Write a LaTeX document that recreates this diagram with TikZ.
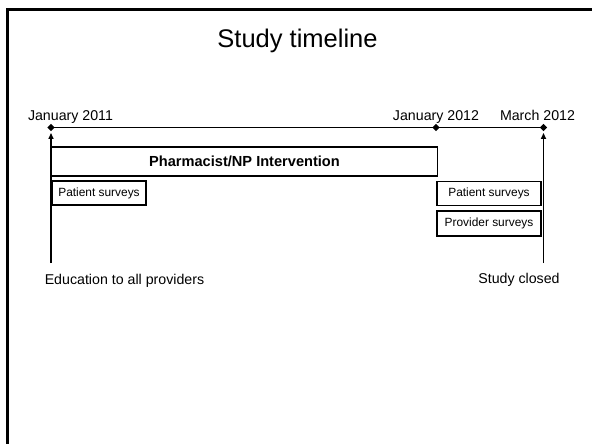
\documentclass[tikz,border=0pt]{standalone}
\usepackage{fontspec}
\setmainfont{Liberation Sans}
\usetikzlibrary{shapes.geometric,arrows.meta}
\tikzset{
  mark diamond/.style={diamond, fill=black, inner sep=0pt, minimum width=7.5pt, minimum height=7.5pt},
  bar/.style={draw=black, line width=1.8pt, inner sep=0pt, font=\fontsize{14.6}{16}\selectfont\bfseries},
  sbox/.style={draw=black, line width=1.6pt, inner sep=0pt, font=\fontsize{11.9}{13}\selectfont},
  datelbl/.style={anchor=base, inner sep=0pt, font=\fontsize{14.2}{16}\selectfont},
  tl/.style={line width=1.6pt},
  up/.style={line width=1.8pt, -{Triangle[length=6pt,width=5pt]}}
}
\begin{document}
\begin{tikzpicture}[x=1pt,y=-1pt]
\useasboundingbox (0,0) rectangle (592,444);
% frame (left and top only)
\draw[line width=3pt] (7.5,444) -- (7.5,9.5) -- (592,9.5);
% title
\node[anchor=base, inner sep=0pt, font=\fontsize{25.5}{30}\selectfont] (title) at (297.5,47.5) {Study timeline};
% timeline markers
\node[mark diamond] (d1) at (51,127.5) {};
\node[mark diamond] (d2) at (436,127.5) {};
\node[mark diamond] (d3) at (543.5,127.5) {};
\draw[tl] (d1.center) -- (d2.center) -- (d3.center);
% date labels
\node[datelbl] (l1) at (70.5,121) {January 2011};
\node[datelbl] (l2) at (436,121) {January 2012};
\node[datelbl] (l3) at (537.5,121) {March 2012};
% boxes
\node[bar, minimum width=386pt, minimum height=29pt] (inter) at (244.5,161.5) {Pharmacist/NP Intervention};
\node[sbox, minimum width=94pt, minimum height=24pt] (ps1) at (99,193) {Patient surveys};
\node[sbox, minimum width=104pt, minimum height=24pt] (ps2) at (489,193.5) {Patient surveys};
\node[sbox, minimum width=104pt, minimum height=25pt] (pv2) at (489,223.5) {Provider surveys};
% vertical arrows
\coordinate (b1) at (51,263);
\coordinate (b3) at (543.5,263);
\draw[up] (b1) -- ([yshift=-1.5pt]d1.south);
\draw[up] (b3) -- ([yshift=-1.5pt]d3.south);
% bottom labels
\node[datelbl] (edu) at (124.5,284) {Education to all providers};
\node[datelbl] (closed) at (519,283.5) {Study closed};
\end{tikzpicture}
\end{document}
